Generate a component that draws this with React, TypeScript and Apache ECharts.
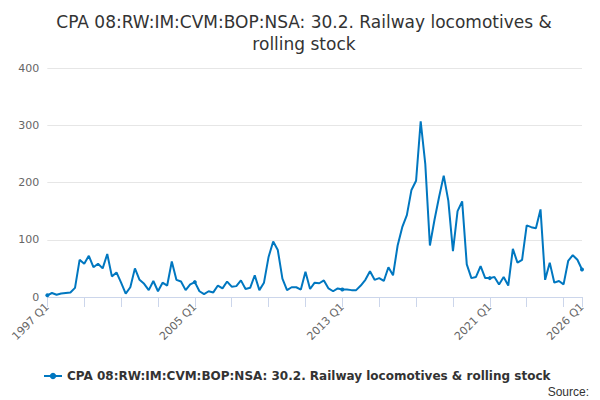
import React, { useRef, useEffect } from "react";
import * as echarts from "echarts";

const seriesName = "CPA 08:RW:IM:CVM:BOP:NSA: 30.2. Railway locomotives & rolling stock";

const values = [
  3, 7, 4, 6, 7, 8, 16, 65, 58, 72, 52, 58, 50, 75, 36, 43,
  25, 6, 17, 50, 30, 23, 12, 28, 10, 25, 20, 62, 30, 27, 12, 22,
  26, 10, 5, 10, 8, 20, 15, 27, 18, 19, 29, 14, 16, 38, 12, 25,
  70, 97, 82, 32, 12, 17, 17, 13, 44, 14, 25, 24, 29, 15, 10, 15,
  13, 13, 12, 12, 20, 30, 45, 30, 33, 28, 52, 38, 90, 122, 143, 187,
  203, 307, 232, 90, 135, 175, 212, 168, 80, 150, 167, 57, 33, 35, 54, 33,
  33, 35, 22, 35, 20, 84, 60, 65, 125, 122, 120, 153, 30, 60, 25, 28,
  22, 63, 73, 65, 48,
];

const categories: string[] = values.map((_, i) => `${1997 + Math.floor(i / 4)} Q${(i % 4) + 1}`);

const App = () => {
  const chartRef = useRef<HTMLDivElement>(null);
  useEffect(() => {
    const chart = echarts.init(chartRef.current, null, { renderer: "svg" });
    const last = categories.length - 1;
    chart.setOption({
      animation: false,
      textStyle: { fontFamily: "'DejaVu Sans', sans-serif" },
      title: {
        text: "CPA 08:RW:IM:CVM:BOP:NSA: 30.2. Railway locomotives &\nrolling stock",
        left: "center",
        top: -2,
        textStyle: { fontSize: 17, fontWeight: "normal", color: "#333", lineHeight: 22 },
      },
      grid: { left: 39, right: 18, top: 60, bottom: 103 },
      legend: {
        bottom: 13,
        left: 30,
        itemWidth: 18,
        itemHeight: 8,
        textStyle: { fontSize: 12, fontWeight: "bold", color: "#333" },
      },
      graphic: [
        { type: "text", right: 11, bottom: 2, style: { text: "Source:", fontSize: 12, fill: "#333" } },
      ],
      xAxis: {
        type: "category",
        data: categories,
        boundaryGap: false,
        axisLine: { lineStyle: { color: "#ccd6eb" } },
        axisTick: { length: 10, lineStyle: { color: "#ccd6eb" }, interval: (i: number) => i % 8 === 0 || i === last },
        axisLabel: {
          rotate: 45,
          color: "#666",
          fontSize: 11,
          interval: (i: number) => i % 32 === 0 || i === last,
        },
      },
      yAxis: {
        type: "value",
        min: 0,
        max: 400,
        interval: 100,
        axisLabel: { color: "#666", fontSize: 11 },
        splitLine: { lineStyle: { color: "#e6e6e6" } },
      },
      series: [
        {
          name: seriesName,
          type: "line",
          data: values,
          symbol: "circle",
          symbolSize: 4,
          lineStyle: { width: 2, color: "#0077c0" },
          itemStyle: { color: "#0077c0" },
        },
      ],
    });
    return () => chart.dispose();
  }, []);
  return <div ref={chartRef} style={{ width: 592, height: 392 }} />;
};

export default App;
